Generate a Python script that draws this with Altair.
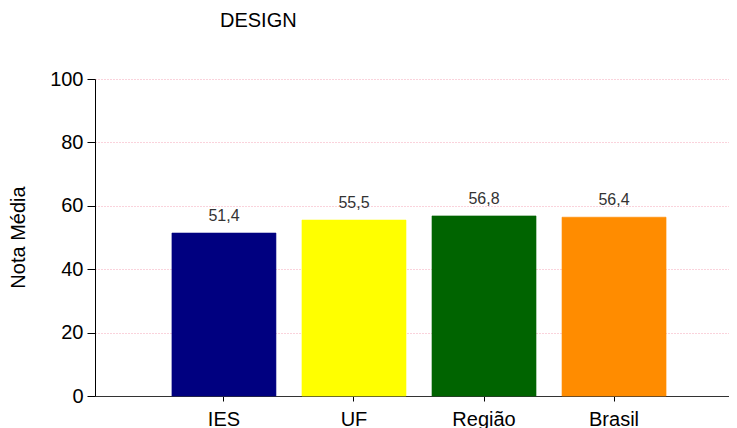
import altair as alt
import pandas as pd

categories = ["IES", "UF", "Região", "Brasil"]
values = [51.4, 55.5, 56.8, 56.4]
colors = ["#000080", "#FFFF00", "#006400", "#FF8C00"]

df = pd.DataFrame({"cat": categories, "v": values})

FONT = "Liberation Sans"

xenc = alt.X(
    "cat:N",
    sort=categories,
    scale=alt.Scale(paddingInner=0.2, paddingOuter=0.538, align=0.55),
    axis=alt.Axis(
        title=None, labelAngle=0, labelFont=FONT, labelFontSize=20,
        labelColor="#000", tickSize=5, tickColor="#000", labelPadding=8,
        domainColor="#333", grid=False,
    ),
)

bars = alt.Chart(df).mark_bar(strokeWidth=1, strokeOpacity=0.6).encode(
    x=xenc,
    y=alt.Y(
        "v:Q",
        scale=alt.Scale(domain=[0, 100], nice=False),
        axis=alt.Axis(
            values=[0, 20, 40, 60, 80, 100], title="Nota Média",
            titleFont=FONT, titleFontSize=20, titleFontWeight="normal",
            titleColor="#000", titleAngle=-90, titleX=-77, titleY=158,
            titleAlign="center", titleBaseline="middle",
            labelFont=FONT, labelFontSize=20, labelColor="#000",
            tickSize=8, tickColor="#000", labelPadding=4,
            domainColor="#000", gridColor="#F4A6B8", gridDash=[1, 2],
            gridWidth=1,
        ),
    ),
    color=alt.Color("cat:N", scale=alt.Scale(domain=categories, range=colors), legend=None),
    stroke=alt.Color("cat:N", scale=alt.Scale(domain=categories, range=colors), legend=None),
)

labels = alt.Chart(df).transform_calculate(
    lbl="replace(format(datum.v, '.1f'), '.', ',')"
).mark_text(font=FONT, fontSize=16, color="#333", baseline="bottom", dy=-9).encode(
    x=alt.X("cat:N", sort=categories),
    y=alt.Y("v:Q"),
    text="lbl:N",
)

chart = alt.layer(bars, labels).properties(
    width=634, height=317,
    autosize="none",
    padding={"left": 87, "top": 71, "right": 0, "bottom": 32},
    title=alt.TitleParams(
        "DESIGN", anchor="start", frame="group", dx=125, offset=38,
        font=FONT, fontSize=20, fontWeight="normal", color="#000",
    ),
).configure_view(stroke=None).configure_axis(gridOpacity=1)

chart.save("out.html", embed_options={"renderer": "svg", "actions": False})
